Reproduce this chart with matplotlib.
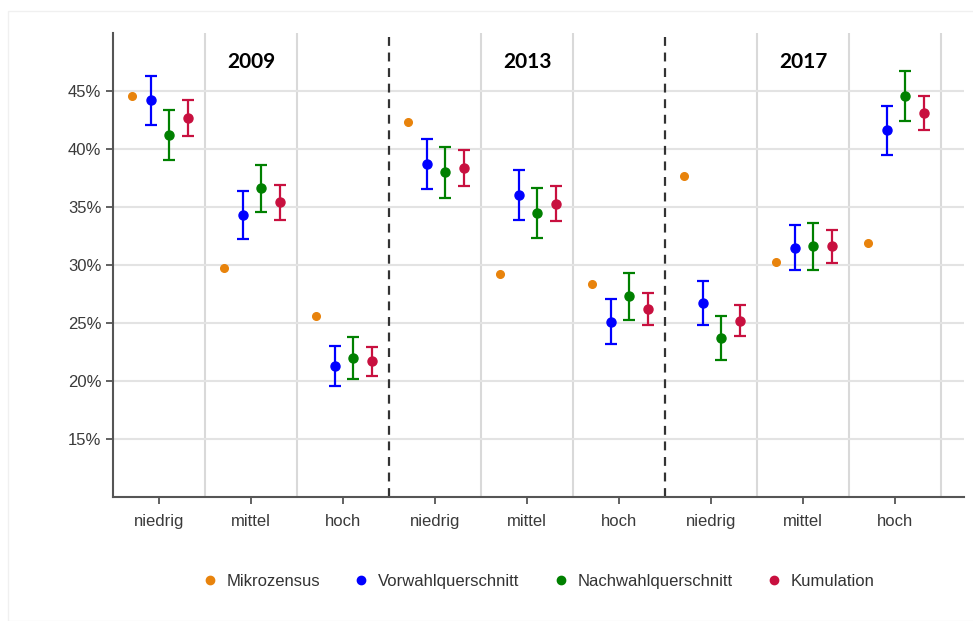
import numpy as np
import matplotlib.pyplot as plt
from matplotlib.lines import Line2D
from matplotlib.patches import Rectangle

years = ["2009", "2013", "2017"]
levels = ["niedrig", "mittel", "hoch"]

# Schätzungen je Jahr x Bildungsniveau (in %), Reihenfolge: 2009 n/m/h, 2013 n/m/h, 2017 n/m/h
mikrozensus = [44.6, 29.7, 25.6, 42.3, 29.2, 28.4, 37.7, 30.3, 31.9]
vorwahl = [44.2, 34.3, 21.3, 38.7, 36.0, 25.1, 26.7, 31.5, 41.6]
vorwahl_err = [2.1, 2.05, 1.75, 2.15, 2.15, 1.95, 1.9, 1.95, 2.1]
nachwahl = [41.2, 36.6, 22.0, 38.0, 34.5, 27.3, 23.7, 31.6, 44.6]
nachwahl_err = [2.15, 2.05, 1.8, 2.2, 2.15, 2.05, 1.9, 2.05, 2.15]
kumulation = [42.7, 35.4, 21.7, 38.4, 35.3, 26.2, 25.2, 31.6, 43.1]
kumulation_err = [1.55, 1.5, 1.25, 1.55, 1.5, 1.4, 1.35, 1.4, 1.5]

yticks = [15, 20, 25, 30, 35, 40, 45]

c_orange = "#E8830C"
c_blue = "#0000FF"
c_green = "#008000"
c_red = "#C8103F"

W, H = 973, 621
fig = plt.figure(figsize=(W / 100, H / 100), dpi=100)
ax = fig.add_axes([113 / W, 1 - 497 / H, 851 / W, 464 / H])

x = np.arange(len(mikrozensus))
offsets = [-0.29, -0.09, 0.11, 0.31]

ax.plot(x + offsets[0], mikrozensus, "o", color=c_orange, ms=5.5, label="Mikrozensus", zorder=3)
series = [
    (vorwahl, vorwahl_err, c_blue, "Vorwahlquerschnitt"),
    (nachwahl, nachwahl_err, c_green, "Nachwahlquerschnitt"),
    (kumulation, kumulation_err, c_red, "Kumulation"),
]
for off, (vals, err, col, name) in zip(offsets[1:], series):
    ax.errorbar(x + off, vals, yerr=err, fmt="o", color=col, ms=6.5,
                elinewidth=1.6, capsize=4.5, capthick=1.6, label=name, zorder=3)

# Trennlinien zwischen Kategorien und Jahren
for b in np.arange(0.5, len(x), 1.0):
    if b in (2.5, 5.5):
        ax.axvline(b, color="#333333", lw=1.6, ls=(0, (4, 3)), zorder=1)
    else:
        ax.axvline(b, color="#d9d9d9", lw=1.5, zorder=0)
for t in yticks:
    ax.axhline(t, color="#e3e3e3", lw=1.5, zorder=0)

for i, yr in enumerate(years):
    ax.text(3 * i + 1, 47.5, yr, ha="center", va="center", fontsize=15,
            fontweight="bold", family="Lato", color="black")

ax.set_xlim(-0.5, 8.75)
ax.set_ylim(10, 50)
ax.set_xticks(x)
ax.set_xticklabels(levels * 3)
ax.set_yticks(yticks)
ax.set_yticklabels([f"{t}%" for t in yticks])

for s in ["top", "right"]:
    ax.spines[s].set_visible(False)
for s in ["left", "bottom"]:
    ax.spines[s].set_color("#555555")
    ax.spines[s].set_linewidth(1.5)
ax.tick_params(colors="#555555", labelcolor="#3a3a3a", labelsize=12,
               length=5, width=1.3)
ax.tick_params(axis="x", pad=7)
for lbl in ax.get_xticklabels() + ax.get_yticklabels():
    lbl.set_family("Liberation Sans")

# Legende von Hand: Punkt + Text in einer Zeile, zentriert unter der Achse
legend_items = [(c_orange, "Mikrozensus"), (c_blue, "Vorwahlquerschnitt"),
                (c_green, "Nachwahlquerschnitt"), (c_red, "Kumulation")]
renderer = fig.canvas.get_renderer()
leg_y = 1 - 580 / H
texts = []
for col, name in legend_items:
    t = fig.text(0, leg_y, name, va="center_baseline", ha="left", fontsize=12,
                 family="Liberation Sans", color="#333333")
    texts.append(t)
widths = [t.get_window_extent(renderer).width for t in texts]
pad, gap = 17, 41
total = sum(pad + w for w in widths) + gap * (len(widths) - 1)
pos = 538 - total / 2 + 4
for (col, name), t, w in zip(legend_items, texts, widths):
    fig.add_artist(Line2D([pos / W], [leg_y], transform=fig.transFigure, ls="none",
                          marker="o", ms=6, color=col))
    t.set_x((pos + pad) / W)
    pos += pad + w + gap

# feiner Rahmen um die Grafik
fig.patches.append(Rectangle((8 / W, 0), 1, 1 - 11 / H, transform=fig.transFigure,
                             fill=False, edgecolor="#f0f0f0", lw=1))

fig.savefig("out.png", dpi=100)
